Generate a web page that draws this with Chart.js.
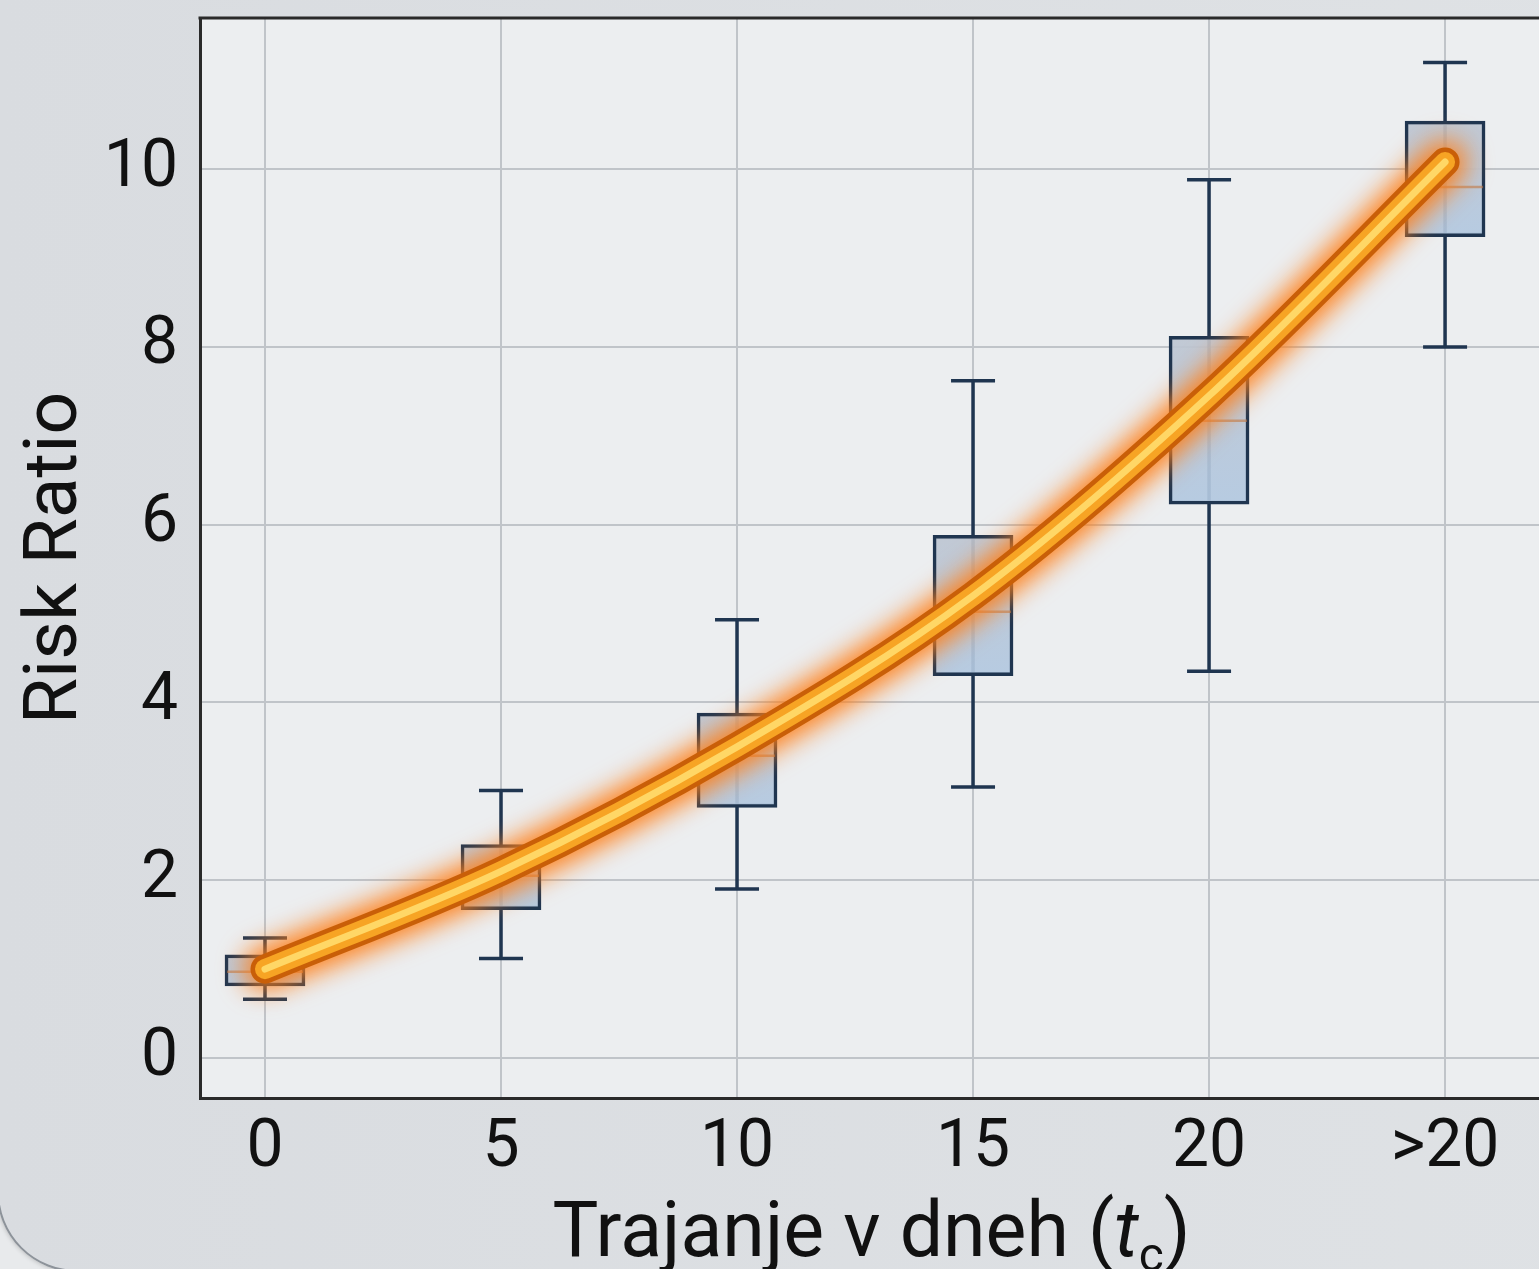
<!DOCTYPE html>
<html>
<head>
<meta charset="utf-8">
<script src="https://cdn.jsdelivr.net/npm/chart.js@4.4.1/dist/chart.umd.min.js"></script>
<style>
  html, body { margin: 0; padding: 0; width: 1539px; height: 1269px; overflow: hidden; background: #e8eaec; }
  #card {
    position: absolute; left: -3px; top: -120px; width: 1700px; height: 1388px;
    border-radius: 80px; background: linear-gradient(90deg, #d9dce0, #dfe2e5);
    border: 2px solid #8d939a; box-shadow: 0 0 5px rgba(0,0,0,0.25);
  }
  #wrap { position: absolute; left: 0; top: 0; width: 1539px; height: 1269px; }
  #xtitle {
    position: absolute; left: 202px; width: 1339px; top: 1192px; text-align: center;
    font-family: Roboto, sans-serif; font-size: 77px; line-height: 77px; color: #111;
    white-space: nowrap;
  }
  #xtitle .sub { font-size: 0.62em; position: relative; top: 0.32em; }
</style>
</head>
<body>
<div id="card"></div>
<div id="wrap"><canvas id="riskchart" width="1539" height="1269"></canvas></div>
<div id="xtitle">Trajanje v dneh (<i>t</i><span class="sub">c</span>)</div>
<script>
// categories and positions on the x axis
const xLabels = ['0', '5', '10', '15', '20', '>20'];
const xPos = [0, 5, 10, 15, 20, 25];
const yTicks = [0, 2, 4, 6, 8, 10];

// box plot values
const whiskerLow  = [0.66, 1.12, 1.90, 3.05, 4.35, 8.00];
const boxLow      = [0.81, 1.67, 2.82, 4.30, 6.23, 9.24];
const medians     = [0.97, 2.05, 3.40, 5.02, 7.17, 9.80];
const boxHigh     = [1.16, 2.40, 3.88, 5.88, 8.12, 10.54];
const whiskerHigh = [1.35, 3.01, 4.93, 7.62, 9.88, 11.20];

// fitted curve
const curveX = [0, 5, 10, 15, 20, 25];
const curveY = [1.00, 2.10, 3.50, 5.20, 7.45, 10.08];

const ctx = document.getElementById('riskchart');
const txtColor = '#111';
const navy = '#1f3550';

const curvePts = curveX.map((x, i) => ({ x: x, y: curveY[i] }));
const boxPts = xPos.map((x, i) => ({ x: x, y: [boxLow[i], boxHigh[i]] }));

// gradient for each box
function boxFill(c) {
  const chart = c.chart;
  if (!chart.chartArea || c.dataIndex === undefined) return 'rgba(180,198,218,0.8)';
  const ys = chart.scales.y;
  const top = ys.getPixelForValue(boxHigh[c.dataIndex]);
  const bot = ys.getPixelForValue(boxLow[c.dataIndex]);
  const g = chart.ctx.createLinearGradient(0, top, 0, bot);
  g.addColorStop(0, 'rgba(190,198,210,0.92)');
  g.addColorStop(1, 'rgba(178,200,224,0.92)');
  return g;
}

// whiskers, medians, frame and glow
const boxExtras = {
  id: 'boxExtras',
  beforeDraw(chart) {
    const a = chart.chartArea, c = chart.ctx;
    c.save();
    c.fillStyle = '#eceef0';
    c.fillRect(a.left, a.top, a.right - a.left, a.bottom - a.top);
    c.restore();
  },
  beforeDatasetsDraw(chart) {
    const c = chart.ctx, xs = chart.scales.x, ys = chart.scales.y, a = chart.chartArea;
    c.save();
    c.strokeStyle = navy;
    c.lineWidth = 3.5;
    xPos.forEach((x, i) => {
      const px = xs.getPixelForValue(x);
      const lo = ys.getPixelForValue(whiskerLow[i]);
      const hi = ys.getPixelForValue(whiskerHigh[i]);
      c.beginPath();
      c.moveTo(px, lo); c.lineTo(px, hi);
      c.moveTo(px - 22, lo); c.lineTo(px + 22, lo);
      c.moveTo(px - 22, hi); c.lineTo(px + 22, hi);
      c.stroke();
    });
    // top frame line
    c.strokeStyle = '#2a2a2a';
    c.lineWidth = 3;
    c.beginPath();
    c.moveTo(a.left - 1.5, a.top); c.lineTo(a.right, a.top);
    c.stroke();
    c.restore();
  },
  beforeDatasetDraw(chart, args) {
    const c = chart.ctx;
    c.save();
    if (args.index === 1) {
      // soft halo
      c.filter = 'blur(13px)';
    }
    if (args.index === 2) {
      c.shadowColor = 'rgba(255,120,10,0.9)';
      c.shadowBlur = 26;
    }
  },
  afterDatasetDraw(chart, args) {
    const c = chart.ctx;
    c.restore();
    if (args.index === 0) {
      const xs = chart.scales.x, ys = chart.scales.y;
      c.save();
      c.strokeStyle = 'rgba(190,120,70,0.6)';
      c.lineWidth = 2.5;
      xPos.forEach((x, i) => {
        const px = xs.getPixelForValue(x);
        const py = ys.getPixelForValue(medians[i]);
        c.beginPath();
        c.moveTo(px - 38, py); c.lineTo(px + 38, py);
        c.stroke();
      });
      c.restore();
    }
  }
};

const tickFont = { family: 'Roboto', size: 66 };
const lineBase = {
  type: 'line',
  data: curvePts,
  pointRadius: 0,
  cubicInterpolationMode: 'monotone',
  borderCapStyle: 'round',
  borderJoinStyle: 'round'
};

new Chart(ctx, {
  type: 'bar',
  data: {
    datasets: [
      {
        type: 'bar',
        data: boxPts,
        barThickness: 80,
        borderColor: navy,
        borderWidth: 3.5,
        borderSkipped: false,
        backgroundColor: boxFill,
        order: 4
      },
      Object.assign({}, lineBase, { borderColor: 'rgba(255,135,40,0.6)', borderWidth: 46, order: 3 }),
      Object.assign({}, lineBase, { borderColor: '#c95f08', borderWidth: 29, order: 2 }),
      Object.assign({}, lineBase, { borderColor: '#f7a424', borderWidth: 20, order: 1 }),
      Object.assign({}, lineBase, { borderColor: '#ffd766', borderWidth: 7, order: 0 })
    ]
  },
  options: {
    responsive: false,
    devicePixelRatio: 1,
    animation: false,
    layout: { padding: { top: 18, left: 0, right: 0, bottom: 0 } },
    plugins: { legend: { display: false }, tooltip: { enabled: false } },
    scales: {
      x: {
        type: 'linear',
        offset: false,
        min: -1.377,
        max: 26.99,
        afterBuildTicks: s => { s.ticks = xPos.map(v => ({ value: v })); },
        afterFit: s => { s.height = 171; s.paddingLeft = 0; s.paddingRight = 0; },
        ticks: {
          callback: v => xLabels[xPos.indexOf(v)],
          font: tickFont, color: txtColor, padding: 12, maxRotation: 0, autoSkip: false
        },
        grid: { color: '#c0c4c9', lineWidth: 2, drawTicks: false, offset: false },
        border: { display: true, color: '#2a2a2a', width: 3 }
      },
      y: {
        type: 'linear',
        min: -0.45,
        max: 11.70,
        afterBuildTicks: s => { s.ticks = yTicks.map(v => ({ value: v })); },
        afterFit: s => { s.width = 200; s.paddingTop = 0; s.paddingBottom = 0; },
        ticks: { font: tickFont, color: txtColor, padding: 22 },
        grid: { color: '#c0c4c9', lineWidth: 2, drawTicks: false },
        border: { display: true, color: '#2a2a2a', width: 3 },
        title: {
          display: true, text: 'Risk Ratio', color: txtColor,
          font: { family: 'Roboto', size: 75 }, padding: { top: 12, bottom: 0 }
        }
      }
    }
  },
  plugins: [boxExtras]
});
</script>
</body>
</html>
